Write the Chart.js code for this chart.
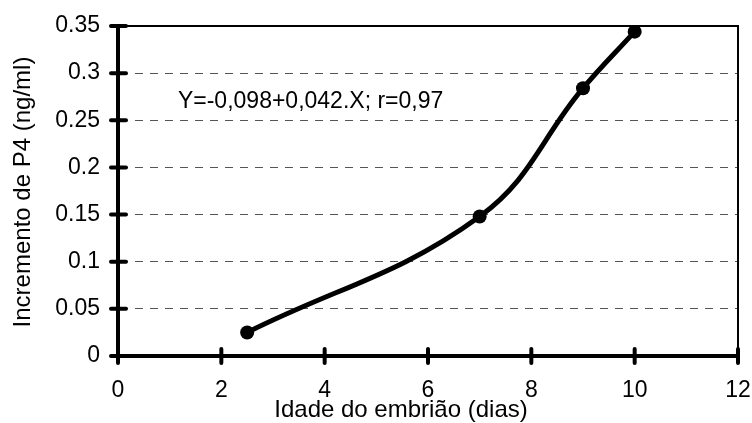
<!DOCTYPE html>
<html>
<head>
<meta charset="utf-8">
<script src="https://cdn.jsdelivr.net/npm/chart.js@4/dist/chart.umd.min.js"></script>
<style>
html,body{margin:0;padding:0;background:#fff;}
#wrap{width:752px;height:423px;position:relative;}
</style>
</head>
<body>
<div id="wrap"><canvas id="c" width="752" height="423"></canvas></div>
<script>
// ---- data ----
const ageDays = [2.5, 7, 9, 10];
const p4Increment = [0.025, 0.148, 0.284, 0.344];
const xTickValues = [0, 2, 4, 6, 8, 10, 12];
const yTickValues = [0, 0.05, 0.1, 0.15, 0.2, 0.25, 0.3, 0.35];
const xTitle = 'Idade do embrião (dias)';
const yTitle = 'Incremento de P4 (ng/ml)';
const equationText = 'Y=-0,098+0,042.X; r=0,97';

const FONT = '"Liberation Sans", Arial, sans-serif';
const FS = 23;
const points = ageDays.map((x, i) => ({x: x, y: p4Increment[i]}));

function zeroPad(s) { s.paddingLeft = 0; s.paddingRight = 0; s.paddingTop = 0; s.paddingBottom = 0; }

const decor = {
  id: 'decor',
  afterDraw(chart) {
    const ctx = chart.ctx;
    const a = chart.chartArea;
    const xs = chart.scales.x, ys = chart.scales.y;
    ctx.save();
    // top and right frame
    ctx.strokeStyle = '#000';
    ctx.lineWidth = 2;
    ctx.beginPath();
    ctx.moveTo(a.left, a.top);
    ctx.lineTo(a.right, a.top);
    ctx.lineTo(a.right, a.bottom);
    ctx.stroke();
    // crossing tick marks
    ctx.lineWidth = 4;
    ctx.lineCap = 'round';
    ctx.beginPath();
    xs.ticks.forEach(t => {
      const px = xs.getPixelForValue(t.value);
      ctx.moveTo(px, a.bottom - 7);
      ctx.lineTo(px, a.bottom + 7);
    });
    ys.ticks.forEach(t => {
      const py = ys.getPixelForValue(t.value);
      ctx.moveTo(a.left - 7, py);
      ctx.lineTo(a.left + 8, py);
    });
    ctx.stroke();
    // texts
    ctx.fillStyle = '#000';
    ctx.font = FS + 'px ' + FONT;
    ctx.textBaseline = 'alphabetic';
    ctx.textAlign = 'left';
    ctx.fillText(equationText, xs.getPixelForValue(1.16), ys.getPixelForValue(0.2635));
    ctx.font = '24px ' + FONT;
    ctx.textAlign = 'center';
    ctx.textBaseline = 'middle';
    ctx.fillText(xTitle, 401, 410);
    ctx.translate(23, 192);
    ctx.rotate(-Math.PI / 2);
    ctx.fillText(yTitle, 0, 0);
    ctx.restore();
  }
};

new Chart(document.getElementById('c'), {
  type: 'scatter',
  data: {
    datasets: [{
      data: points,
      showLine: true,
      borderColor: '#000',
      backgroundColor: '#000',
      borderWidth: 5,
      tension: 0.4,
      pointRadius: 7,
      pointHoverRadius: 7,
      pointBackgroundColor: '#000',
      pointBorderWidth: 0
    }]
  },
  options: {
    responsive: false,
    animation: false,
    events: [],
    layout: {padding: {left: 0, top: 26, right: 14, bottom: 0}},
    plugins: {legend: {display: false}, tooltip: {enabled: false}},
    scales: {
      x: {
        type: 'linear',
        min: 0, max: 12,
        afterBuildTicks: s => { s.ticks = xTickValues.map(v => ({value: v})); },
        afterFit: s => { s.height = 67; zeroPad(s); },
        grid: {display: true, drawOnChartArea: false, drawTicks: false},
        border: {display: true, color: '#000', width: 4},
        ticks: {
          color: '#000',
          font: {family: FONT, size: FS},
          padding: 21,
          maxRotation: 0,
          callback: v => String(v)
        }
      },
      y: {
        type: 'linear',
        min: 0, max: 0.35,
        afterBuildTicks: s => { s.ticks = yTickValues.map(v => ({value: v})); },
        afterFit: s => { s.width = 118; zeroPad(s); },
        grid: {
          drawTicks: false,
          color: ctx => (ctx.tick && (ctx.tick.value === 0 || Math.abs(ctx.tick.value - 0.35) < 1e-9)) ? 'rgba(0,0,0,0)' : '#555',
          lineWidth: 1
        },
        border: {display: true, color: '#000', width: 4, dash: [8, 7]},
        ticks: {
          color: '#000',
          font: {family: FONT, size: FS},
          padding: 18,
          callback: v => String(+v.toFixed(2))
        }
      }
    }
  },
  plugins: [decor]
});
</script>
</body>
</html>
